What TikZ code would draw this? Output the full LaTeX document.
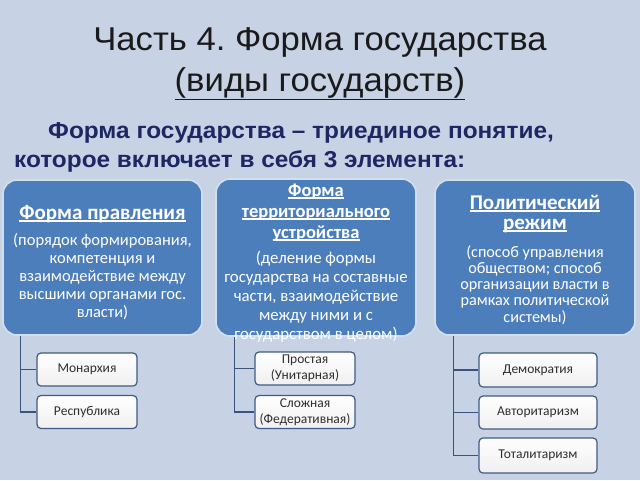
\documentclass[tikz,border=0pt]{standalone}
\usepackage{fontspec}
\setmainfont{Carlito}
\newfontfamily\titlefont[FakeStretch=1.05]{Liberation Sans}
\newfontfamily\subfont[FakeStretch=1.06]{Liberation Sans}
\definecolor{bg}{HTML}{C8D2E5}
\definecolor{boxblue}{HTML}{4D7EBC}
\definecolor{navy}{HTML}{1E2763}
\definecolor{linec}{HTML}{3A5479}
\definecolor{smallborder}{HTML}{3E5A85}
\definecolor{smalltext}{HTML}{2E2E2E}
\definecolor{titlec}{HTML}{1A1A1A}
\newcommand\myul[1]{\setbox0\hbox{#1}\rlap{\color{white}\rule[-2.6pt]{\wd0}{1.3pt}}\box0}
\tikzset{
  bigbox/.style={draw=white!75!boxblue, line width=1.6pt, fill=boxblue,
    rounded corners=14pt, inner sep=0pt},
  smallbox/.style={draw=smallborder, line width=1.2pt, top color=white,
    bottom color=black!6!white, rounded corners=4pt, inner sep=0pt,
    font=\fontsize{13.5}{16}\selectfont, text=smalltext, align=center},
  conn/.style={draw=linec, line width=1.3pt},
  boxtext/.style={text=white, inner sep=0pt, anchor=base},
}
\begin{document}
\frenchspacing
\begin{tikzpicture}[x=1pt,y=-1pt]
\useasboundingbox (0,0) rectangle (640,480);
\fill[bg] (0,0) rectangle (640,480);

% title
\node[anchor=base, inner sep=0pt, text=titlec, font=\titlefont\fontsize{33}{38}\selectfont] (title1) at (320,50) {Часть 4. Форма государства};
\node[anchor=base, inner sep=0pt, text=titlec, font=\titlefont\fontsize{33}{38}\selectfont] (title2) at (320,91) {\underline{(виды государств)}};

% subtitle
\node[anchor=base west, inner sep=0pt, text=navy, font=\subfont\bfseries\fontsize{23}{27}\selectfont] (sub1) at (48,138) {Форма государства – триединое понятие,};
\node[anchor=base west, inner sep=0pt, text=navy, font=\subfont\bfseries\fontsize{23}{27}\selectfont] (sub2) at (14,167) {которое включает в себя 3 элемента:};

% big boxes
\node[bigbox, minimum width=199pt, minimum height=155pt] (b1) at (102.5,257.5) {};
\node[bigbox, minimum width=200pt, minimum height=157pt] (b2) at (316,257.5) {};
\node[bigbox, minimum width=200pt, minimum height=155pt] (b3) at (535,257.5) {};

% box 1 text
\node[boxtext, font=\bfseries\fontsize{21}{23}\selectfont] (h1) at (102.5,219) {\myul{Форма правления}};
\node[boxtext, font=\fontsize{16.5}{18}\selectfont] (d1) at (102.5,245)
  {\begin{tabular}[t]{@{}c@{}}(порядок формирования,\\компетенция и\\взаимодействие между\\высшими органами гос.\\власти)\end{tabular}};

% box 2 text
\node[boxtext, font=\bfseries\fontsize{18.5}{21}\selectfont] (h2) at (316,196)
  {\begin{tabular}[t]{@{}c@{}}\myul{Форма}\\\myul{территориального}\\\myul{устройства}\end{tabular}};
\node[boxtext, font=\fontsize{16.8}{19}\selectfont] (d2) at (316,263)
  {\begin{tabular}[t]{@{}c@{}}(деление формы\\государства на составные\\части, взаимодействие\\между ними и с\\государством в целом)\end{tabular}};

% box 3 text
\node[boxtext, font=\bfseries\fontsize{21}{20}\selectfont] (h3) at (535,209)
  {\begin{tabular}[t]{@{}c@{}}\myul{Политический}\\\myul{режим}\end{tabular}};
\node[boxtext, font=\fontsize{16.2}{16.3}\selectfont] (d3) at (535,257)
  {\begin{tabular}[t]{@{}c@{}}(способ управления\\обществом; способ\\организации власти в\\рамках политической\\системы)\end{tabular}};

% small boxes
\node[smallbox, minimum width=100pt, minimum height=33pt] (m1) at (87,369.5) {Монархия};
\node[smallbox, minimum width=100pt, minimum height=33pt] (m2) at (87,412) {Республика};
\node[smallbox, minimum width=100pt, minimum height=33pt] (s1) at (305,368.5) {Простая\\(Унитарная)};
\node[smallbox, minimum width=100pt, minimum height=33pt] (s2) at (305,412) {Сложная\\(Федеративная)};
\node[smallbox, minimum width=118pt, minimum height=34pt] (r1) at (538,370) {Демократия};
\node[smallbox, minimum width=118pt, minimum height=33pt] (r2) at (538,412.5) {Авторитаризм};
\node[smallbox, minimum width=118pt, minimum height=35pt] (r3) at (538,455.5) {Тоталитаризм};

% connectors
\coordinate (c1) at ([xshift=18.5pt]b1.south west);
\coordinate (c2) at ([xshift=19pt]b2.south west);
\coordinate (c3) at ([xshift=19pt]b3.south west);
\draw[conn] (c1) |- (m2.west);
\draw[conn] (c1 |- m1.west) -- (m1.west);
\draw[conn] (c2) |- (s2.west);
\draw[conn] (c2 |- s1.west) -- (s1.west);
\draw[conn] (c3) |- (r3.west);
\draw[conn] (c3 |- r1.west) -- (r1.west);
\draw[conn] (c3 |- r2.west) -- (r2.west);
\end{tikzpicture}
\end{document}
